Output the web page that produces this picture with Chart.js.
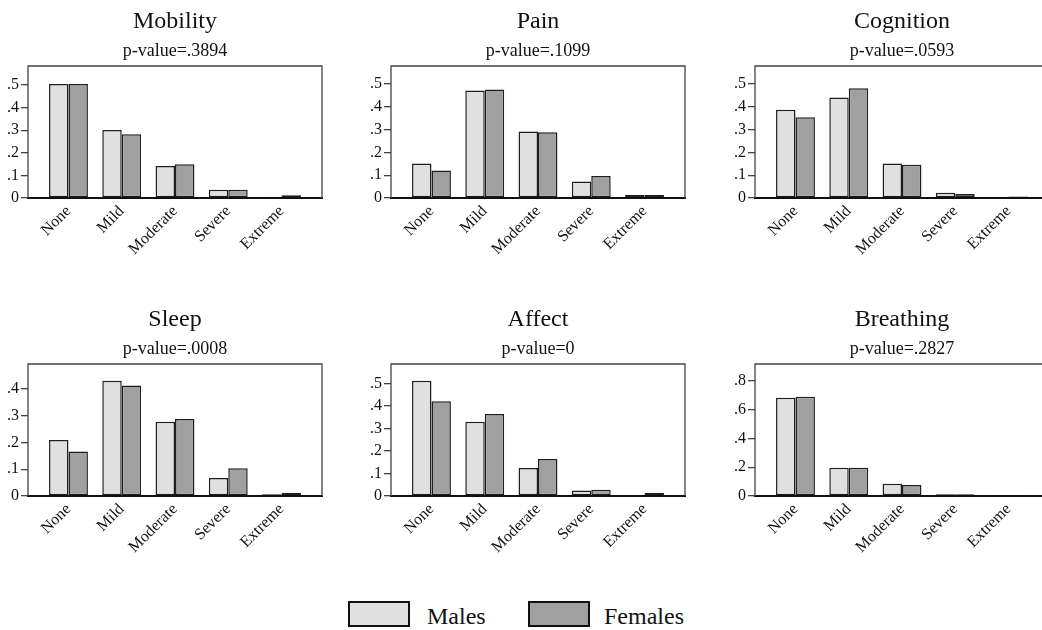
<!DOCTYPE html>
<html>
<head>
<meta charset="utf-8">
<script src="https://cdn.jsdelivr.net/npm/chart.js@4"></script>
<style>
  body { margin: 0; background: #fff; overflow: hidden; width: 1042px; height: 630px; position: relative; font-family: "Liberation Serif", serif; }
  canvas { position: absolute; }
  .lg-box { position: absolute; top: 601px; width: 62px; height: 26px; box-sizing: border-box; border: 2px solid #111; }
  .lg-txt { position: absolute; top: 604px; font-size: 24px; line-height: 24px; color: #111; }
</style>
</head>
<body>
<div class="lg-box" style="left:348px;background:#e0e0e0"></div>
<div class="lg-txt" style="left:427px">Males</div>
<div class="lg-box" style="left:528px;background:#a0a0a0"></div>
<div class="lg-txt" style="left:604px">Females</div>
<script>
// categories and panels
const categories = ['None', 'Mild', 'Moderate', 'Severe', 'Extreme'];
const panelTitles = ['Mobility', 'Pain', 'Cognition', 'Sleep', 'Affect', 'Breathing'];
const pValueLabels = ['p-value=.3894', 'p-value=.1099', 'p-value=.0593', 'p-value=.0008', 'p-value=0', 'p-value=.2827'];

// shares by category
const malesMobility    = [0.504, 0.301, 0.142, 0.037, 0.002];
const femalesMobility  = [0.504, 0.282, 0.149, 0.037, 0.012];
const malesPain        = [0.151, 0.471, 0.292, 0.072, 0.013];
const femalesPain      = [0.121, 0.476, 0.288, 0.096, 0.013];
const malesCognition   = [0.387, 0.441, 0.151, 0.023, 0.001];
const femalesCognition = [0.354, 0.481, 0.146, 0.018, 0.007];
const malesSleep       = [0.210, 0.431, 0.278, 0.067, 0.007];
const femalesSleep     = [0.167, 0.414, 0.288, 0.104, 0.011];
const malesAffect      = [0.512, 0.330, 0.124, 0.024, 0.001];
const femalesAffect    = [0.421, 0.364, 0.164, 0.028, 0.013];
const malesBreathing   = [0.683, 0.196, 0.086, 0.013, 0.003];
const femalesBreathing = [0.690, 0.196, 0.077, 0.013, 0.004];

// y axes
const yAxisMax  = [0.584, 0.579, 0.579, 0.494, 0.586, 0.918];
const yAxisStep = [0.1, 0.1, 0.1, 0.1, 0.1, 0.2];

const malesAll = [malesMobility, malesPain, malesCognition, malesSleep, malesAffect, malesBreathing];
const femalesAll = [femalesMobility, femalesPain, femalesCognition, femalesSleep, femalesAffect, femalesBreathing];

const serif = '"Liberation Serif", "Times New Roman", serif';
const colLeft = [0, 363, 727];
const rowTop = [0, 298];

// box around the plot region
const framePlugin = {
  id: 'frame',
  afterDraw(chart) {
    const { ctx, chartArea: a } = chart;
    ctx.save();
    ctx.strokeStyle = '#444';
    ctx.lineWidth = 1.3;
    ctx.beginPath();
    ctx.moveTo(a.left, a.bottom);
    ctx.lineTo(a.left, a.top);
    ctx.lineTo(a.right, a.top);
    ctx.lineTo(a.right, a.bottom);
    ctx.stroke();
    ctx.restore();
  }
};

function fmtTick(v) {
  if (v === 0) return '0';
  return String(+v.toFixed(1)).replace(/^0\./, '.');
}

function toPoints(arr) {
  return arr.map((v, i) => ({ x: i, y: v }));
}

for (let p = 0; p < 6; p++) {
  const cv = document.createElement('canvas');
  cv.width = 350;
  cv.height = 270;
  cv.style.left = colLeft[p % 3] + 'px';
  cv.style.top = rowTop[Math.floor(p / 3)] + 'px';
  document.body.appendChild(cv);

  new Chart(cv, {
    type: 'bar',
    data: {
      datasets: [
        { label: 'Males', data: toPoints(malesAll[p]), backgroundColor: '#e0e0e0',
          borderColor: '#1e1e1e', borderWidth: 1.5, borderSkipped: false,
          categoryPercentage: 0.73, barPercentage: 1 },
        { label: 'Females', data: toPoints(femalesAll[p]), backgroundColor: '#a0a0a0',
          borderColor: '#1e1e1e', borderWidth: 1.5, borderSkipped: false,
          categoryPercentage: 0.73, barPercentage: 1 }
      ]
    },
    options: {
      responsive: false,
      animation: false,
      layout: { padding: 0 },
      plugins: {
        legend: { display: false },
        tooltip: { enabled: false },
        title: {
          display: true, text: panelTitles[p], color: '#111',
          font: { family: serif, size: 24, weight: 'normal' },
          padding: { top: 7.5, bottom: 2 }
        },
        subtitle: {
          display: true, text: pValueLabels[p], color: '#111',
          font: { family: serif, size: 18, weight: 'normal' },
          padding: { top: 2.3, bottom: 3.8 }
        }
      },
      scales: {
        x: {
          type: 'linear', min: -0.76, max: 4.76, offset: false,
          grid: { display: false, drawTicks: false },
          border: { display: true, color: '#111', width: 2 },
          ticks: {
            stepSize: 1, includeBounds: false, autoSkip: false,
            minRotation: 45, maxRotation: 45, padding: 4, color: '#111',
            font: { family: serif, size: 16 },
            callback: v => categories[v] ?? ''
          },
          afterFit(s) { s.height = 72; }
        },
        y: {
          min: 0, max: yAxisMax[p],
          grid: { drawOnChartArea: false, drawTicks: true, tickLength: 7, color: '#444', lineWidth: 1.3 },
          border: { display: false },
          ticks: {
            stepSize: yAxisStep[p], includeBounds: false, padding: 2, color: '#111',
            font: { family: serif, size: 16 },
            callback: fmtTick
          },
          afterFit(s) { s.width = 28; }
        },
        yr: {
          type: 'linear', position: 'right', display: true,
          ticks: { display: false }, grid: { display: false }, border: { display: false },
          afterFit(s) { s.width = 28; }
        }
      }
    },
    plugins: [framePlugin]
  });
}
</script>
</body>
</html>
